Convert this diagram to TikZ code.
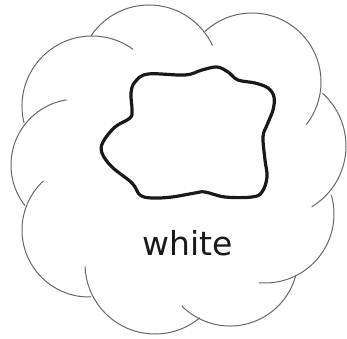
\documentclass[tikz,border=0pt]{standalone}
\usepackage{fontspec}
\setmainfont{DejaVu Sans}
\usepackage{tikz}

\begin{document}
\begin{tikzpicture}[
    x=1pt, y=1pt,
    cloudline/.style={draw=black!60, line width=1pt},
    blobline/.style={draw=black!90, line width=3.2pt},
    label/.style={font=\fontsize{33}{40}\selectfont, text=black!90, inner sep=0pt}
]
\useasboundingbox (0,0) rectangle (347,338);
% outer cloud, one arc per bump
\draw[cloudline] (92,232) ++(194:70) arc[start angle=194, end angle=54, radius=70];
\draw[cloudline] (149,263) ++(146:70) arc[start angle=146, end angle=25, radius=70];
\draw[cloudline] (252,256) ++(133:69) arc[start angle=133, end angle=-38, radius=69];
\draw[cloudline] (275,192) ++(48:71) arc[start angle=48, end angle=-59, radius=71];
\draw[cloudline] (265,124) ++(16:69) arc[start angle=16, end angle=-95, radius=69];
\draw[cloudline] (230,80) ++(-15:68) arc[start angle=-15, end angle=-135, radius=68];
\draw[cloudline] (155,74) ++(-50:70) arc[start angle=-50, end angle=-178, radius=70];
\draw[cloudline] (89,108) ++(-88:67) arc[start angle=-88, end angle=-227, radius=67];
\draw[cloudline] (77,173) ++(218:66) arc[start angle=218, end angle=99, radius=66];
% inner blob
\draw[blobline] plot[smooth cycle, tension=0.6] coordinates {
    (148,264) (185,263) (202,268) (217,271) (228,266) (238,258) (255,255)
    (268,250) (274,241) (273,228) (267,213) (263,201) (265,178) (267,161)
    (262,146) (252,141) (225,141) (205,146) (195,145) (172,141) (152,140)
    (140,143) (132,155) (112,171) (102,185) (103,196) (115,211) (130,220)
    (132,228) (131,245) (135,256)};
\node[label, anchor=base] (lbl) at (187.5,83) {white};
\end{tikzpicture}
\end{document}
